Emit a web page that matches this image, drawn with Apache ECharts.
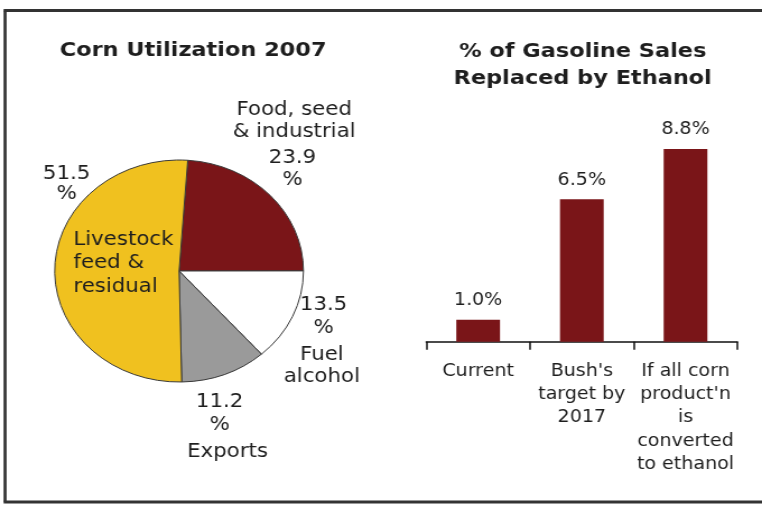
<!DOCTYPE html>
<html>
<head>
<meta charset="utf-8">
<script src="https://cdn.jsdelivr.net/npm/echarts@6/dist/echarts.min.js"></script>
<style>
  html, body { margin: 0; padding: 0; background: #fff; overflow: hidden; }
  #wrap { width: 762px; height: 506px; overflow: hidden; }
  /* the whole panel is drawn at 680px wide and stretched horizontally */
  #chart { width: 680px; height: 506px; transform: scaleX(1.1206); transform-origin: 0 0; }
</style>
</head>
<body>
<div id="wrap"><div id="chart"></div></div>
<script>
// Corn utilization 2007 (percent of crop)
const pieNames  = ['Food, seed & industrial', 'Fuel alcohol', 'Exports', 'Livestock feed & residual'];
const pieValues = [23.9, 13.5, 11.2, 51.5];
const pieColors = ['#7a1518', '#ffffff', '#9a9a9a', '#f0c11f'];

// Share of gasoline sales replaced by ethanol (percent)
const barCategories = ['Current', "Bush's\ntarget by\n2017", "If all corn\nproduct'n\nis\nconverted\nto ethanol"];
const barValues     = [1.0, 6.5, 8.8];

const leftTitle  = 'Corn Utilization 2007';
const rightTitle = '% of Gasoline Sales\nReplaced by Ethanol';

const FONT = "'DejaVu Sans', Verdana, sans-serif";
const INK = '#1e1e1e';

function pct(v) { return v.toFixed(1) + '\n%'; }

function txt(text, x, y, opts) {
  opts = opts || {};
  return {
    type: 'text', x: x, y: y, z: 100, silent: true,
    style: {
      text: text,
      align: opts.align || 'center',
      verticalAlign: 'middle',
      fontFamily: FONT,
      fontSize: opts.size || 19,
      fontWeight: opts.weight || 'normal',
      lineHeight: opts.lh || 21.7,
      fill: INK
    }
  };
}

const chart = echarts.init(document.getElementById('chart'), null, { renderer: 'canvas' });

chart.setOption({
  animation: false,
  backgroundColor: '#ffffff',
  grid: { left: 380.4, right: 22, top: 122.7, bottom: 164.3 },
  xAxis: {
    type: 'category',
    data: barCategories,
    axisLine: { lineStyle: { color: '#111', width: 1.5 } },
    axisTick: { show: true, length: 8, lineStyle: { color: '#111', width: 1.5 } },
    axisLabel: {
      interval: 0, margin: 18, fontFamily: FONT, fontSize: 17,
      lineHeight: 23.3, color: INK, align: 'center'
    },
    splitLine: { show: false }
  },
  yAxis: { type: 'value', min: 0, max: 10, show: false },
  series: [
    {
      type: 'pie',
      radius: 111,
      center: [159.8, 271],
      startAngle: 86,
      clockwise: true,
      silent: true,
      label: { show: false },
      labelLine: { show: false },
      emphasis: { disabled: true },
      itemStyle: { borderColor: '#3a3a3a', borderWidth: 1 },
      data: pieNames.map((n, i) => ({ name: n, value: pieValues[i], itemStyle: { color: pieColors[i] } }))
    },
    {
      type: 'bar',
      data: barValues,
      barWidth: 39,
      silent: true,
      itemStyle: { color: '#7a1518' },
      label: {
        show: true, position: 'top', distance: 9,
        formatter: p => p.value.toFixed(1) + '%',
        fontFamily: FONT, fontSize: 17, lineHeight: 20, color: INK
      }
    }
  ],
  graphic: [
    // panel frame
    { type: 'line', silent: true, shape: { x1: 4.5, y1: 10.5, x2: 4.5, y2: 502 }, style: { stroke: '#333', lineWidth: 2.7 } },
    { type: 'line', silent: true, shape: { x1: 3.2, y1: 10.5, x2: 690, y2: 10.5 }, style: { stroke: '#333', lineWidth: 3 } },
    { type: 'line', silent: true, shape: { x1: 3.2, y1: 502, x2: 690, y2: 502 }, style: { stroke: '#333', lineWidth: 3 } },

    // titles
    txt(leftTitle, 172.3, 50.7, { size: 20, weight: 'bold' }),
    txt(rightTitle, 520, 65, { size: 20, weight: 'bold', lh: 26.7 }),

    // pie annotations
    txt(pct(pieValues[3]), 59.5, 184.2, { lh: 20 }),
    txt('Livestock\nfeed &\nresidual', 65.5, 263.3, { align: 'left', lh: 23.3 }),
    txt('Food, seed\n& industrial', 262.5, 120.8),
    txt(pct(pieValues[0]), 261, 169.2),
    txt(pct(pieValues[1]), 288.7, 316.7, { lh: 23.3 }),
    txt('Fuel\nalcohol', 287.2, 365.8),
    txt(pct(pieValues[2]), 196, 413.3, { lh: 23.3 }),
    txt('Exports', 203, 451.7)
  ]
});
</script>
</body>
</html>
